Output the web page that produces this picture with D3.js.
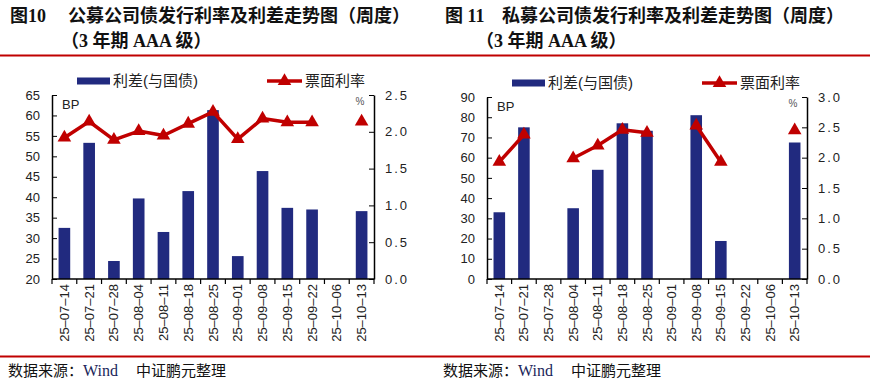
<!DOCTYPE html>
<html>
<head>
<meta charset="utf-8">
<script src="https://cdn.jsdelivr.net/npm/d3@7/dist/d3.min.js"></script>
<style>
  body { margin: 0; background: #fff; }
  svg { display: block; }
  .sans { font-family: "Liberation Sans", Arial, "Noto Sans CJK SC", sans-serif; }
  .serif { font-family: "Liberation Serif", "Times New Roman", "Noto Sans CJK SC", serif; }
</style>
</head>
<body>
<svg id="chart" width="870" height="388"></svg>
<script>
// weekly dates shared by both charts
var dates = ["25-07-14","25-07-21","25-07-28","25-08-04","25-08-11","25-08-18","25-08-25",
             "25-09-01","25-09-08","25-09-15","25-09-22","25-10-06","25-10-13"];

// Figure 10: public placement (BP spread, % coupon)
var pubSpread = [32.5, 53.3, 24.4, 39.7, 31.5, 41.5, 61.3, 25.6, 46.4, 37.4, 37.0, null, 36.6];
var pubCoupon = [1.92, 2.14, 1.89, 2.01, 1.95, 2.11, 2.27, 1.90, 2.18, 2.13, 2.13, null, 2.14];
var pubLeftTicks = [20, 25, 30, 35, 40, 45, 50, 55, 60, 65];
var pubRightTicks = [0, 0.5, 1.0, 1.5, 2.0, 2.5];

// Figure 11: private placement
var privSpread = [33, 75, null, 35, 54, 77, 73.3, null, 81, 18.8, null, null, 67.5];
var privCoupon = [1.93, 2.38, null, 1.99, 2.20, 2.46, 2.41, null, 2.53, 1.93, null, null, 2.45];
var privLeftTicks = [0, 10, 20, 30, 40, 50, 60, 70, 80, 90];
var privRightTicks = [0, 0.5, 1.0, 1.5, 2.0, 2.5, 3.0];

var BAR = "#212A7F", RED = "#C00000";
var svg = d3.select("#chart");

// red rules above and below both charts
svg.append("line").attr("x1", 0).attr("x2", 870).attr("y1", 55.5).attr("y2", 55.5)
  .attr("stroke", RED).attr("stroke-width", 2);
svg.append("line").attr("x1", 0).attr("x2", 870).attr("y1", 356.5).attr("y2", 356.5)
  .attr("stroke", RED).attr("stroke-width", 2);

// Draw one panel (title, dual axis bar + line chart, source note)
// @p - panel settings: offset, plot box, data and ticks
function drawPanel(p) {
  var g = svg.append("g");
  var ox = p.offset;

  // titles
  var t = g.append("g").attr("class", "serif").attr("font-weight", "bold").attr("font-size", 18).attr("fill", "#111");
  t.append("text").attr("x", ox + 10).attr("y", 22).text(p.fig);
  t.append("text").attr("x", ox + p.titleX).attr("y", 22).text(p.title);
  t.append("text").attr("x", ox + p.subX).attr("y", 47).text("（3 年期 AAA 级）");

  // source note
  var s = g.append("text").attr("class", "serif").attr("x", ox + 8).attr("y", 376)
    .attr("font-size", 15).attr("fill", "#111");
  s.append("tspan").text("数据来源：");
  s.append("tspan").attr("fill", "#1b1f5a").attr("font-size", 16).text("Wind");
  s.append("tspan").attr("dx", 18).text("中证鹏元整理");

  var x = d3.scaleBand().domain(dates).range([p.x0, p.x1]).paddingInner(0.53).paddingOuter(0.265);
  var yL = d3.scaleLinear().domain(d3.extent(p.leftTicks)).range([p.y1, p.y0]);
  var yR = d3.scaleLinear().domain(d3.extent(p.rightTicks)).range([p.y1, p.y0]);

  // bars
  g.append("g").selectAll("rect")
    .data(dates.map((d, i) => ({ date: d, v: p.spread[i] })).filter(d => d.v != null))
    .join("rect")
    .attr("x", d => x(d.date))
    .attr("width", x.bandwidth())
    .attr("y", d => yL(d.v))
    .attr("height", d => p.y1 - yL(d.v))
    .attr("fill", BAR);

  // coupon line, broken where there is no issue
  var pts = dates.map((d, i) => ({ date: d, v: p.coupon[i] }));
  var line = d3.line()
    .defined(d => d.v != null)
    .x(d => x(d.date) + x.bandwidth() / 2)
    .y(d => yR(d.v));
  g.append("path").datum(pts).attr("d", line)
    .attr("fill", "none").attr("stroke", RED).attr("stroke-width", 3.5).attr("stroke-linejoin", "round");
  var tri = d3.symbol().type(d3.symbolTriangle).size(80);
  g.append("g").selectAll("path")
    .data(pts.filter(d => d.v != null))
    .join("path")
    .attr("d", tri)
    .attr("transform", d => "translate(" + (x(d.date) + x.bandwidth() / 2) + "," + yR(d.v) + ")")
    .attr("fill", RED);

  // left axis, ticks pointing inward
  var aL = g.append("g").attr("class", "sans").attr("transform", "translate(" + p.x0 + ",0)")
    .call(d3.axisLeft(yL).tickValues(p.leftTicks).tickSizeInner(-5).tickSizeOuter(0).tickPadding(12));
  aL.selectAll("text").attr("font-size", 13).attr("fill", "#222").attr("font-family", null);
  aL.select(".domain").attr("stroke-width", 1.5);

  // right axis
  var aR = g.append("g").attr("class", "sans").attr("transform", "translate(" + p.x1 + ",0)")
    .call(d3.axisRight(yR).tickValues(p.rightTicks).tickFormat(d3.format(".1f"))
      .tickSizeInner(-5).tickSizeOuter(0).tickPadding(11));
  aR.selectAll("text").attr("font-size", 13).attr("fill", "#222").attr("font-family", null)
    .attr("letter-spacing", 2);
  aR.select(".domain").attr("stroke-width", 1.5);

  // bottom axis: ticks on the category boundaries
  var xa = g.append("g").attr("class", "sans");
  xa.append("line").attr("x1", p.x0).attr("x2", p.x1).attr("y1", p.y1).attr("y2", p.y1)
    .attr("stroke", "#000").attr("stroke-width", 1.5);
  xa.selectAll("line.tk")
    .data(d3.range(dates.length + 1))
    .join("line").attr("class", "tk")
    .attr("x1", i => p.x0 + i * x.step()).attr("x2", i => p.x0 + i * x.step())
    .attr("y1", p.y1).attr("y2", p.y1 + 5)
    .attr("stroke", "#000").attr("stroke-width", 1.2);
  xa.selectAll("text")
    .data(dates)
    .join("text")
    .attr("transform", d => "translate(" + (x(d) + x.bandwidth() / 2) + "," + (p.y1 + 5) + ") rotate(-90)")
    .attr("text-anchor", "end")
    .attr("dy", "0.35em")
    .attr("font-size", 13)
    .attr("fill", "#222")
    .text(d => d.replace(/-/g, "\u2013"));

  // unit labels
  g.append("text").attr("class", "sans").attr("x", p.x0 + 10).attr("y", p.y0 + 14)
    .attr("font-size", 13).attr("fill", "#222").text("BP");
  g.append("text").attr("class", "sans").attr("x", p.x1 - 14).attr("y", p.y0 + 10)
    .attr("text-anchor", "middle").attr("font-size", 10).attr("fill", "#555").text("%");

  // legend
  var ly = p.y0 - 14;
  var lg = g.append("g").attr("class", "sans").attr("font-size", 15).attr("fill", "#222");
  lg.append("rect").attr("x", ox + 77).attr("y", ly - 3.5).attr("width", 33).attr("height", 7).attr("fill", BAR);
  lg.append("text").attr("x", ox + 113).attr("y", ly).attr("dy", "0.35em").text("利差(与国债)");
  lg.append("line").attr("x1", ox + 267).attr("x2", ox + 302).attr("y1", ly).attr("y2", ly)
    .attr("stroke", RED).attr("stroke-width", 3.5);
  lg.append("path").attr("d", tri).attr("transform", "translate(" + (ox + 284.5) + "," + ly + ")").attr("fill", RED);
  lg.append("text").attr("x", ox + 305).attr("y", ly).attr("dy", "0.35em").text("票面利率");
}

drawPanel({
  offset: 0, fig: "图10", titleX: 68, subX: 61,
  title: "公募公司债发行利率及利差走势图（周度）",
  x0: 52, x1: 374, y0: 95, y1: 279,
  spread: pubSpread, coupon: pubCoupon,
  leftTicks: pubLeftTicks, rightTicks: pubRightTicks
});

drawPanel({
  offset: 435, fig: "图 11", titleX: 67, subX: 41,
  title: "私募公司债发行利率及利差走势图（周度）",
  x0: 487, x1: 807, y0: 97, y1: 279,
  spread: privSpread, coupon: privCoupon,
  leftTicks: privLeftTicks, rightTicks: privRightTicks
});
</script>
</body>
</html>
